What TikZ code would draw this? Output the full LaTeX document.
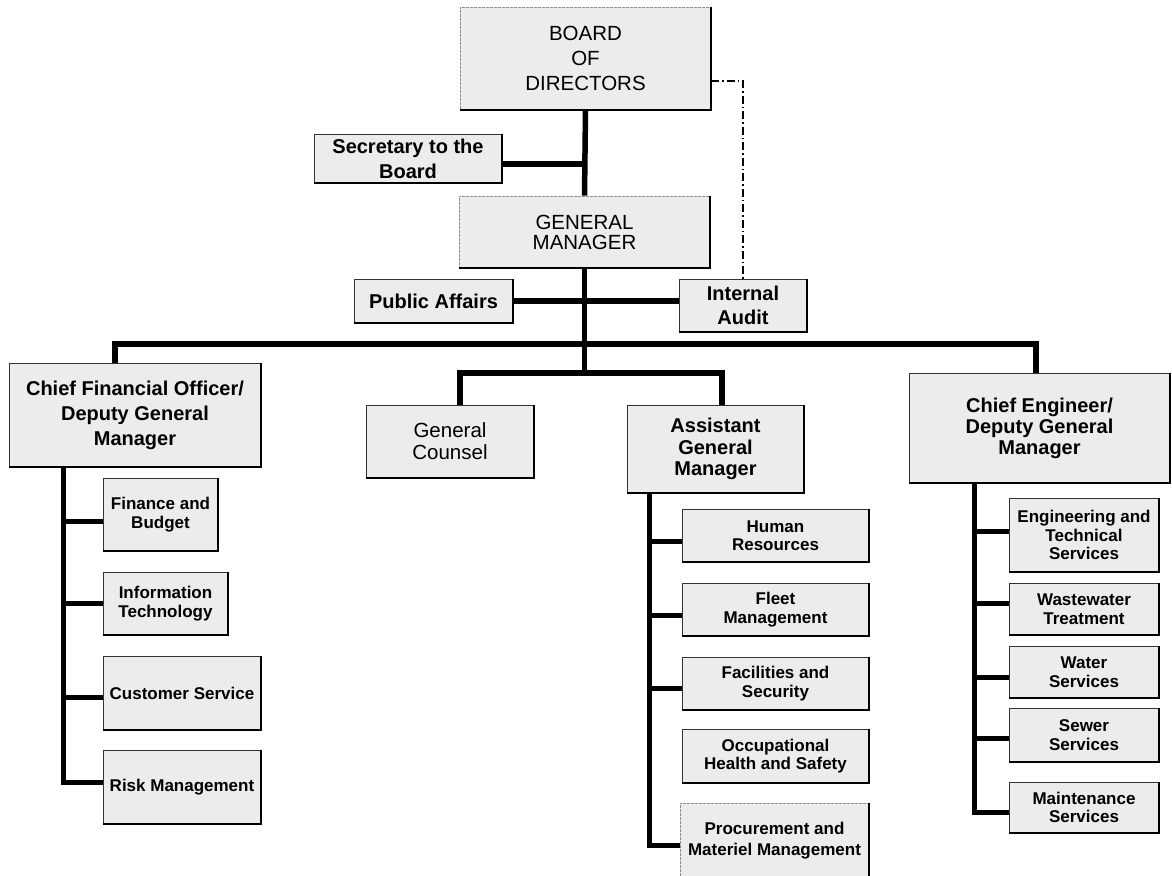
\documentclass[tikz,border=0pt]{standalone}
\usepackage{fontspec}
\setmainfont{Liberation Sans}
\pgfdeclarelayer{background}
\pgfsetlayers{background,main}
\definecolor{boxfill}{RGB}{236,236,236}
\begin{document}
\begin{tikzpicture}[x=1pt,y=-1pt,
  box/.style={draw=black!80, line width=0.7pt, fill=boxfill, inner sep=0pt, align=center, text=black},
  lightbox/.style={box, draw=black!45, dash pattern=on 3pt off 1pt},
  topb/.style={font=\fontsize{20}{25}\selectfont\bfseries},
  topr/.style={font=\fontsize{20.5}{25}\selectfont},
  subf/.style={font=\fontsize{17}{18.5}\selectfont\bfseries},
  shadowline/.style={line width=2pt, black, line join=miter},
  mainline/.style={line width=5.5pt, black, line join=miter},
  subline/.style={line width=5pt, black, line join=miter},
  dashline/.style={line width=1.4pt, black, dash pattern=on 8pt off 3pt on 1.5pt off 3pt}]
\clip (0,0) rectangle (1172,875);
% top level
\node[lightbox, topr, font=\fontsize{20.5}{25}\selectfont, minimum width=251, minimum height=103] (board) at (585.5,58.5) {BOARD\\OF\\DIRECTORS};
\node[box, topb, minimum width=188, minimum height=49] (sec) at (408,158.5) {Secretary to the\\Board};
\node[lightbox, topr, font=\fontsize{20.5}{20}\selectfont, minimum width=251, minimum height=72] (gm) at (584.5,232) {GENERAL\\MANAGER};
\node[box, topb, minimum width=159, minimum height=44] (pa) at (433.5,301) {Public Affairs};
\node[box, topb, font=\fontsize{20}{24}\selectfont\bfseries, minimum width=128, minimum height=53] (ia) at (743,305.5) {Internal\\Audit};
% second level
\node[box, topb, minimum width=252, minimum height=104] (cfo) at (135,415) {Chief Financial Officer/\\Deputy General\\Manager};
\node[box, topr, font=\fontsize{20.5}{22}\selectfont, minimum width=168, minimum height=73] (gc) at (450,441.5) {General\\Counsel};
\node[box, topb, font=\fontsize{20}{21.5}\selectfont\bfseries, minimum width=177, minimum height=88] (agm) at (715.5,449) {Assistant\\General\\Manager};
\node[box, topb, font=\fontsize{20}{21}\selectfont\bfseries, minimum width=261, minimum height=110] (ce) at (1039.5,428) {Chief Engineer/\\Deputy General\\Manager};
% CFO subs
\node[box, subf, minimum width=115, minimum height=73] (fin) at (160.5,514.5) {Finance and\\Budget};
\node[box, subf, minimum width=125, minimum height=63] (it) at (165.5,603.5) {Information\\Technology};
\node[box, subf, minimum width=158, minimum height=74] (cs) at (182,693) {Customer Service};
\node[box, subf, minimum width=158, minimum height=74] (rm) at (182,787) {Risk Management};
% AGM subs
\node[box, subf, minimum width=187, minimum height=53] (hr) at (775.5,535.5) {Human\\Resources};
\node[box, subf, minimum width=187, minimum height=53] (fm) at (775.5,609.5) {Fleet\\Management};
\node[box, subf, minimum width=187, minimum height=53] (fs) at (775.5,683.5) {Facilities and\\Security};
\node[box, subf, minimum width=187, minimum height=54] (oh) at (775.5,756) {Occupational\\Health and Safety};
\node[lightbox, subf, font=\fontsize{17}{21}\selectfont\bfseries, minimum width=189, minimum height=76] (pm) at (774.5,841) {Procurement and\\Materiel Management};
% CE subs
\node[box, subf, minimum width=150, minimum height=74] (et) at (1084,535) {Engineering and\\Technical\\Services};
\node[box, subf, minimum width=150, minimum height=52] (ww) at (1084,609) {Wastewater\\Treatment};
\node[box, subf, minimum width=150, minimum height=52] (ws) at (1084,672) {Water\\Services};
\node[box, subf, minimum width=150, minimum height=54] (ss) at (1084,735) {Sewer\\Services};
\node[box, subf, minimum width=150, minimum height=51] (ms) at (1084,807.5) {Maintenance\\Services};
% shadows
\foreach \n in {board,sec,gm,pa,ia,cfo,gc,agm,ce,fin,it,cs,rm,hr,fm,fs,oh,pm,et,ww,ws,ss,ms}
  \draw[shadowline] (\n.north east) -- (\n.south east) -- (\n.south west);
% coordinates
\coordinate (hL) at (115,344);
\coordinate (hR) at (1036,344);
\coordinate (h2L) at (460,373);
\coordinate (h2R) at (722,373);
\coordinate (secE) at ([yshift=-5.5pt]sec.east);
\coordinate (bE) at ([yshift=-22.5pt]board.east);
\coordinate (cfoV) at ([xshift=-72pt]cfo.south);
\coordinate (agmV) at ([xshift=-66.5pt]agm.south);
\coordinate (ceV) at ([xshift=-65.5pt]ce.south);
\coordinate (finC) at ([yshift=-6.5pt]fin.west);
\coordinate (itC) at (it.west);
\coordinate (csC) at ([yshift=-4pt]cs.west);
\coordinate (rmC) at ([yshift=5pt]rm.west);
\coordinate (hrC) at ([yshift=-5.5pt]hr.west);
\coordinate (fmC) at ([yshift=-5.5pt]fm.west);
\coordinate (fsC) at ([yshift=-4.5pt]fs.west);
\coordinate (pmC) at ([yshift=-4pt]pm.west);
\coordinate (etC) at ([yshift=4pt]et.west);
\coordinate (wwC) at ([yshift=6pt]ww.west);
\coordinate (wsC) at ([yshift=-5pt]ws.west);
\coordinate (ssC) at ([yshift=-3pt]ss.west);
\coordinate (msC) at ([yshift=-4.5pt]ms.west);
\begin{pgfonlayer}{background}
  \draw[mainline] (board.south) -- (gm.north);
  \draw[mainline] (secE) -- (secE -| board.south);
  \draw[mainline] (gm.south) -- (gm.south |- h2L);
  \draw[mainline] (pa.east) -- (ia.west |- pa.east);
  \draw[mainline] (cfo.north -| hL) -- (hL) -- (hR) -- (ce.north -| hR);
  \draw[mainline] (gc.north -| h2L) -- (h2L) -- (h2R) -- (agm.north -| h2R);
  \draw[dashline] (bE) -- (bE -| ia.north) -- (ia.north);
  % CFO
  \draw[subline] (cfoV) -- (cfoV |- rmC) -- (rmC);
  \foreach \c in {finC,itC,csC} \draw[subline] (cfoV |- \c) -- (\c);
  % AGM
  \draw[subline] (agmV) -- (agmV |- pmC) -- (pmC);
  \foreach \c in {hrC,fmC,fsC} \draw[subline] (agmV |- \c) -- (\c);
  % CE
  \draw[subline] (ceV) -- (ceV |- msC) -- (msC);
  \foreach \c in {etC,wwC,wsC,ssC} \draw[subline] (ceV |- \c) -- (\c);
\end{pgfonlayer}
\end{tikzpicture}
\end{document}
